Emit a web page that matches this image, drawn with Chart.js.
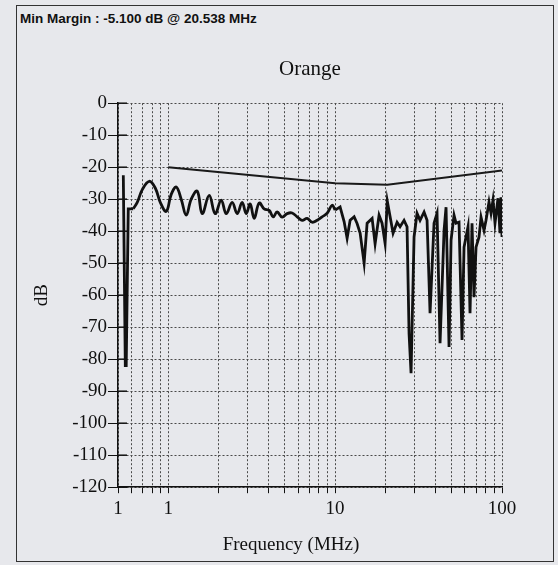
<!DOCTYPE html>
<html>
<head>
<meta charset="utf-8">
<script src="https://cdn.jsdelivr.net/npm/chart.js@4"></script>
<style>
  html, body { margin: 0; padding: 0; }
  body { width: 558px; height: 565px; background: #e7e8ec; position: relative; overflow: hidden; }
  #frame { position: absolute; left: 16px; top: 5px; width: 538px; height: 557px; border: 1px solid #333; box-sizing: border-box; }
  #margin { position: absolute; left: 20px; top: 11px; font: bold 13.5px "Liberation Sans", Arial, sans-serif; color: #111; }
  #wrap { position: absolute; left: 0; top: 0; width: 558px; height: 565px; }
</style>
</head>
<body>
<div id="frame"></div>
<div id="margin">Min Margin : -5.100 dB @ 20.538 MHz</div>
<div id="wrap"><canvas id="myChart"></canvas></div>
<script>
// values
const sigFreq = [0.538, 0.553, 0.560, 0.576, 0.617, 0.652, 0.699, 0.769, 0.836, 0.896,
  0.973, 1.042, 1.117, 1.196, 1.282, 1.373, 1.492, 1.598, 1.760, 1.911,
  2.077, 2.225, 2.416, 2.589, 2.774, 2.931, 3.097, 3.273, 3.507, 3.757,
  4.026, 4.253, 4.494, 4.816, 5.160, 5.528, 5.923, 6.346, 6.799, 7.285,
  7.804, 8.361, 8.955, 9.594, 10.0, 10.71, 11.32, 11.80, 12.30, 13.00,
  13.54, 14.12, 14.92, 15.55, 16.66, 17.36, 18.34, 19.11, 19.93, 20.54,
  22.25, 23.51, 24.50, 25.89, 26.98, 27.74, 28.51, 29.72, 30.97, 32.28,
  34.12, 35.56, 37.06, 39.15, 40.81, 42.54, 44.96, 46.21, 48.16, 49.52,
  51.59, 53.03, 55.27, 57.61, 59.23, 62.58, 64.33, 66.13, 67.97, 69.90,
  72.85, 74.88, 78.03, 80.22, 83.59, 85.93, 88.33, 90.81, 94.63, 97.27,
  98.6, 100]
const sigDb = [-22.5, -82, -82, -33, -33, -31, -27, -24.4, -26.5, -31,
  -33.8, -28.5, -26.2, -30, -35, -30, -27.5, -34.5, -28.8, -34.5,
  -30.3, -34.5, -31, -34.5, -31, -34.5, -31.5, -36, -31.2, -33,
  -33.5, -35.5, -34, -35.6, -34.5, -34.3, -35.5, -36.6, -36, -37.2,
  -36.6, -35.5, -34.4, -31.9, -33.4, -32.4, -37, -42.2, -36.6, -35.5,
  -37.6, -40.6, -50, -37.5, -36, -43.9, -35, -37.5, -43.8, -30.6,
  -40.6, -37.2, -38.6, -36.6, -38.6, -72, -84.4, -41.8, -34.4, -36.6,
  -34, -36.6, -65.6, -37.5, -34.4, -75, -39.7, -32.5, -76.2, -42.8,
  -35, -37.5, -37.2, -74, -45, -38.6, -65.6, -37.5, -60.6, -45,
  -41.8, -35.6, -39.7, -36.6, -30.9, -34.4, -30.3, -37.5, -29.7, -40.6,
  -29.4, -41.8]

const limitFreq = [1, 10, 20.538, 100]
const limitDb = [-20, -25, -25.5, -21]

const xTickValues = [0.5, 0.6, 0.7, 0.8, 0.9, 1, 2, 3, 4, 5, 6, 7, 8, 9, 10,
  20, 30, 40, 50, 60, 70, 80, 90, 100]
const xTickLabels = { 0.5: '1', 1: '1', 10: '10', 100: '100' }

// the low band rings smoothly, the spike at start and the band above 10 MHz are sharp
const smoothFrom = 4
const smoothTo = 44

const toPoints = function (xs, ys) {
    return xs.map(function (x, i) { return { x: x, y: ys[i] } })
}

const serif = '"Liberation Serif", "Times New Roman", serif'

const sigSet = function (from, to, tension) {
    return {
        label: 'Orange',
        data: toPoints(sigFreq.slice(from, to), sigDb.slice(from, to)),
        borderColor: '#111',
        borderWidth: 2.8,
        pointRadius: 0,
        tension: tension
    }
}

// little inward ticks on the y axis like the printout
const innerTicks = {
    id: 'innerTicks',
    afterDraw: function (chart) {
        const c = chart.ctx
        const y = chart.scales.y
        const left = chart.chartArea.left
        c.save()
        c.strokeStyle = '#111'
        c.lineWidth = 1.5
        y.ticks.forEach(function (t) {
            const py = y.getPixelForValue(t.value)
            c.beginPath()
            c.moveTo(left, py)
            c.lineTo(left + 9, py)
            c.stroke()
        })
        c.restore()
    }
}

const chartManagement = function () {
    const ctx = document.getElementById('myChart')
    new Chart(ctx, {
        type: 'line',
        data: {
            datasets: [{
                label: 'Limit',
                data: toPoints(limitFreq, limitDb),
                borderColor: '#1a1a1a',
                borderWidth: 2,
                pointRadius: 0
            },
            sigSet(0, smoothFrom + 1, 0),
            sigSet(smoothFrom, smoothTo + 1, 0.4),
            sigSet(smoothTo, sigFreq.length, 0)]
        },
        options: {
            responsive: true,
            maintainAspectRatio: false,
            animation: false,
            layout: { padding: { left: 24, top: 0, right: 0, bottom: 0 } },
            plugins: {
                legend: { display: false },
                tooltip: { enabled: false },
                title: {
                    display: true,
                    text: 'Orange',
                    fullSize: false,
                    color: '#111',
                    font: { family: serif, size: 21, weight: 'normal', lineHeight: 1.2 },
                    padding: { top: 57, bottom: 21 }
                },
                subtitle: {
                    display: true,
                    position: 'bottom',
                    text: 'Frequency (MHz)',
                    color: '#111',
                    font: { family: serif, size: 19, weight: 'normal', lineHeight: 1.2 },
                    padding: { top: 8, bottom: 9 }
                }
            },
            scales: {
                x: {
                    type: 'logarithmic',
                    min: 0.5,
                    max: 100,
                    afterBuildTicks: function (scale) {
                        scale.ticks = xTickValues.map(function (v) { return { value: v } })
                    },
                    afterFit: function (scale) { scale.height = 38 },
                    ticks: {
                        autoSkip: false,
                        maxRotation: 0,
                        color: '#111',
                        padding: 4,
                        font: { family: serif, size: 19 },
                        callback: function (v) { return xTickLabels[v] || '' }
                    },
                    grid: { color: '#4a4a4a', lineWidth: 1, tickLength: 6, tickColor: '#111', tickBorderDash: [] },
                    border: { color: '#111', width: 1.5, dash: [2, 2] }
                },
                y: {
                    min: -120,
                    max: 0,
                    afterFit: function (scale) { scale.width = 94 },
                    ticks: {
                        stepSize: 10,
                        color: '#111',
                        padding: 1,
                        font: { family: serif, size: 19 }
                    },
                    title: {
                        display: true,
                        text: 'dB',
                        color: '#111',
                        font: { family: serif, size: 19, lineHeight: 1.2 },
                        padding: { top: 7, bottom: 0 }
                    },
                    grid: { color: '#4a4a4a', lineWidth: 1, tickLength: 10, tickColor: '#111', tickBorderDash: [] },
                    border: { color: '#111', width: 1.5, dash: [2, 2] }
                },
                y2: {
                    position: 'right',
                    display: true,
                    afterFit: function (scale) { scale.width = 56 },
                    ticks: { display: false },
                    grid: { display: false, drawTicks: false },
                    border: { display: false }
                }
            }
        },
        plugins: [innerTicks]
    })
}
chartManagement()
</script>
</body>
</html>
